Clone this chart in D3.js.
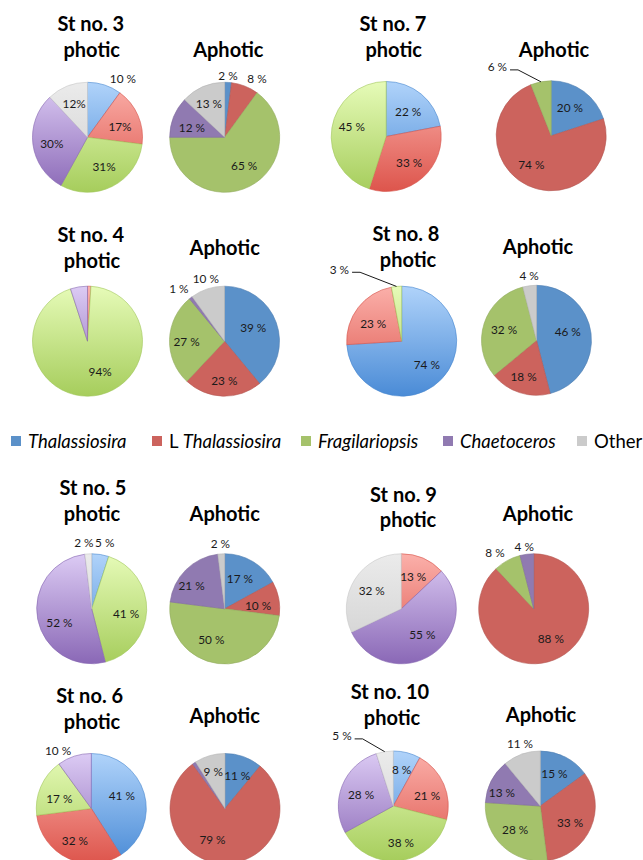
<!DOCTYPE html>
<html>
<head>
<meta charset="utf-8">
<script src="https://cdn.jsdelivr.net/npm/d3@7"></script>
<style>
  html, body { margin: 0; padding: 0; background: #fff; }
  svg { display: block; }
</style>
</head>
<body>
<svg id="chart" width="643" height="860"></svg>
<script>
// ---------------- DATA ----------------
const categories = ["Thalassiosira", "L Thalassiosira", "Fragilariopsis", "Chaetoceros", "Other"];
const stations = ["St no. 3", "St no. 7", "St no. 4", "St no. 8", "St no. 5", "St no. 9", "St no. 6", "St no. 10"];
const photicTitle = "photic";
const aphoticTitle = "Aphotic";
// percentages per station, in category order
const photicValues = [
  [10, 17, 31, 30, 12],
  [22, 33, 45, 0, 0],
  [0, 1, 94, 5, 0],
  [74, 23, 3, 0, 0],
  [5, 0, 41, 52, 2],
  [0, 13, 0, 55, 32],
  [41, 32, 17, 10, 0],
  [8, 21, 38, 28, 5]
];
const aphoticValues = [
  [2, 8, 65, 12, 13],
  [20, 74, 6, 0, 0],
  [39, 23, 27, 1, 10],
  [46, 18, 32, 0, 4],
  [17, 10, 50, 21, 2],
  [0, 88, 8, 4, 0],
  [11, 79, 0, 1, 9],
  [15, 33, 28, 13, 11]
];
// labels written without the space before "%"
const photicCompact = [[false, true, true, true, true], false, true, false, false, false, false, false];
const aphoticCompact = [false, false, false, false, false, false, false, false];

// ---------------- LAYOUT / STYLE ----------------
const R = 55;
const photicCenters = [[87.5,137.3],[386.2,136.5],[87.5,341.2],[401.7,341.2],[91.7,608.8],[401.3,608.8],[91.3,808.5],[393.3,806]];
const aphoticCenters = [[224.7,137.3],[551.2,135.8],[224.5,341.2],[536.5,340.3],[224.7,608.8],[533.7,608.8],[225,808.5],[540.3,806]];
// [line1 x, line1 baseline, line2 x, line2 baseline]
const stTitlePos = [[90.8,30.7,91.7,56.7],[393,30.7,393.7,56.7],[90.8,242.3,92,268],[406,241,408,267],[93,495,92,521],[403.5,501.7,408,526.7],[89.7,703,92,729],[390,699,392,725]];
const aphTitlePos = [[228.3,57],[554,57],[224.7,255],[538,254],[224.7,521],[538,520.7],[224.7,723],[541,722]];
// label placement: [angle (deg, clockwise from 12 o'clock), radius factor]
const photicLabelPos = [
  [[31.3,1.24],[72.4,0.62],[151,0.62],[259.3,0.66],[338,0.65]],
  [[41.7,0.6],[139.2,0.64],[286,0.65],null,null],
  [null,null,[157.8,0.61],null,null],
  [[133.6,0.63],[301.9,0.61],[319.1,1.73],null,null],
  [[11.1,1.23],null,[97.4,0.63],[246.6,0.64],[353.2,1.21]],
  [null,[20.5,0.62],null,[141.3,0.61],[301.4,0.63]],
  [[67.7,0.6],[206.8,0.66],[287.6,0.61],[330,1.21],null],
  [[12.9,0.68],[73.6,0.64],[168.2,0.68],[288.8,0.62],[323.8,1.58]]
];
const aphoticLabelPos = [
  [[3.1,1.12],[29,1.21],[145.1,0.62],[285.9,0.62],[334.7,0.67]],
  [[33.4,0.62],[214.3,0.64],[322,1.59],null,null],
  [[64.2,0.58],[180.3,0.72],[269.2,0.69],[318.8,1.26],[343.4,1.19]],
  [[74.4,0.59],[199.6,0.7],[287.7,0.62],null,[353.5,1.19]],
  [[26.6,0.62],[84.7,0.61],[203.2,0.62],[304.3,0.73],[356.2,1.19]],
  [null,[149.9,0.62],[325.4,1.24],[351.4,1.15],null],
  [[20.3,0.64],[201.6,0.62],null,null,[342.4,0.71]],
  [[23.6,0.64],[119.3,0.62],[226.5,0.63],[289.2,0.74],[341.9,1.19]]
];
const flatColors = ["#5b91c9", "#cc635d", "#a5c26b", "#907ab1", "#cbcbcb"];
const gradTop    = ["#b0d3fa", "#fbb0aa", "#e6fbb8", "#dccbf4", "#ebebeb"];
const gradBottom = ["#4a8bd6", "#dd554c", "#a6cd5c", "#8a68b6", "#cfcfcf"];
const FONT = "Lato, 'Open Sans', 'DejaVu Sans', sans-serif";
const legendItemX = [11, 152, 301, 443, 577];

// ---------------- DRAW ----------------
const svg = d3.select("#chart");
svg.append("rect").attr("width", 643).attr("height", 860).attr("fill", "#fff");
const defs = svg.append("defs");

const color = d3.scaleOrdinal().domain(categories).range(flatColors);
const pie = d3.pie().sort(null).value(d => d.v).startAngle(0).endAngle(2 * Math.PI);
const arc = d3.arc().innerRadius(0).outerRadius(R);
const rad = d3.scaleLinear().domain([0, 360]).range([0, 2 * Math.PI]);

function drawPie(values, center, labelPos, compact, gradId) {
  const [cx, cy] = center;
  const g = svg.append("g").attr("transform", `translate(${cx},${cy})`);
  const data = values.map((v, i) => ({ v, cat: categories[i], i }));
  const arcs = pie(data);
  if (gradId) {
    categories.forEach((c, k) => {
      const lg = defs.append("linearGradient")
        .attr("id", `${gradId}_${k}`)
        .attr("gradientUnits", "userSpaceOnUse")
        .attr("x1", 0).attr("x2", 0).attr("y1", -R).attr("y2", R);
      lg.append("stop").attr("offset", "0%").attr("stop-color", gradTop[k]);
      lg.append("stop").attr("offset", "100%").attr("stop-color", gradBottom[k]);
    });
  }
  g.selectAll("path.slice")
    .data(arcs.filter(a => a.data.v > 0))
    .join("path")
    .attr("class", "slice")
    .attr("d", arc)
    .attr("fill", d => gradId ? `url(#${gradId}_${d.data.i})` : color(d.data.cat))
    .attr("stroke", d => d3.color(gradId ? gradBottom[d.data.i] : color(d.data.cat)).darker(gradId ? 0.1 : 0.35))
    .attr("stroke-width", 0.6);

  arcs.forEach((a, i) => {
    const lp = labelPos[i];
    if (!lp || a.data.v <= 0) return;
    const ang = rad(lp[0]);
    const dist = lp[1] * R;
    const lx = Math.sin(ang) * dist;
    const ly = -Math.cos(ang) * dist;
    const isCompact = Array.isArray(compact) ? compact[i] : compact;
    const txt = g.append("text")
      .attr("x", lx).attr("y", ly).attr("dy", "0.36em")
      .attr("text-anchor", "middle")
      .attr("font-family", FONT)
      .attr("font-size", 11.8)
      .attr("fill", "#1a1a1a")
      .text(a.data.v + (isCompact ? "%" : " %"));
    if (lp[1] >= 1.4) {
      const w = txt.node().getComputedTextLength();
      const mid = (a.startAngle + a.endAngle) / 2;
      const sx = lx + w / 2 + 3, sy = ly + 3;
      const ex = Math.sin(mid) * R, ey = -Math.cos(mid) * R;
      g.append("path")
        .attr("d", d3.line()([[sx, sy], [sx + 8, sy], [ex, ey]]))
        .attr("fill", "none")
        .attr("stroke", "#1a1a1a")
        .attr("stroke-width", 1);
    }
  });
}

stations.forEach((st, i) => {
  drawPie(photicValues[i], photicCenters[i], photicLabelPos[i], photicCompact[i], `pg${i}`);
  drawPie(aphoticValues[i], aphoticCenters[i], aphoticLabelPos[i], aphoticCompact[i], null);
  const tp = stTitlePos[i];
  svg.append("text").attr("x", tp[0]).attr("y", tp[1]).attr("text-anchor", "middle")
    .attr("font-family", FONT).attr("font-weight", "bold").attr("font-size", 20).attr("fill", "#000")
    .text(st);
  svg.append("text").attr("x", tp[2]).attr("y", tp[3]).attr("text-anchor", "middle")
    .attr("font-family", FONT).attr("font-weight", "bold").attr("font-size", 20).attr("fill", "#000")
    .text(photicTitle);
  const ap = aphTitlePos[i];
  svg.append("text").attr("x", ap[0]).attr("y", ap[1]).attr("text-anchor", "middle")
    .attr("font-family", FONT).attr("font-weight", "bold").attr("font-size", 20).attr("fill", "#000")
    .text(aphoticTitle);
});

// ---------------- LEGEND ----------------
const legend = svg.append("g").attr("class", "legend");
const legY = 448;
categories.forEach((c, k) => {
  const lx = legendItemX[k];
  legend.append("rect").attr("x", lx).attr("y", legY - 12).attr("width", 10).attr("height", 10)
    .attr("fill", color(c));
  const t = legend.append("text").attr("x", lx + 17).attr("y", legY)
    .attr("font-family", FONT).attr("font-size", 18.5).attr("fill", "#000");
  if (c === "Other") {
    t.text(c);
  } else if (c.startsWith("L ")) {
    t.append("tspan").text("L ");
    t.append("tspan").attr("font-style", "italic").text(c.slice(2));
  } else {
    t.attr("font-style", "italic").text(c);
  }
});
</script>
</body>
</html>
